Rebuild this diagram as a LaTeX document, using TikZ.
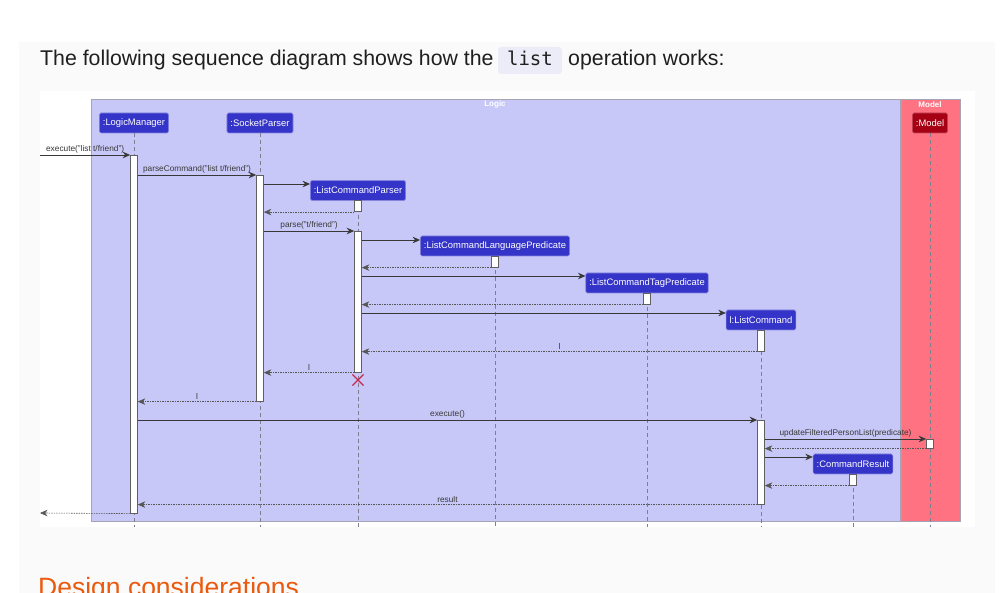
\documentclass[tikz,border=0pt]{standalone}
\usepackage{fontspec}
\setmainfont{Liberation Sans}
\setmonofont{DejaVu Sans Mono}
\usetikzlibrary{arrows.meta, backgrounds, calc, positioning, shapes.misc}
\definecolor{seqpanel}{HTML}{FAFAFA}
\definecolor{seqcodebg}{HTML}{ECECF8}
\definecolor{seqtext}{HTML}{1F1F1F}
\definecolor{seqlogic}{HTML}{C8C8F8}
\definecolor{seqframe}{HTML}{A4A4B4}
\definecolor{seqmodel}{HTML}{FF7282}
\definecolor{seqpart}{HTML}{3434C8}
\definecolor{seqmodelpart}{HTML}{A50014}
\definecolor{seqarrow}{HTML}{383838}
\definecolor{seqlife}{HTML}{7E7E90}
\definecolor{seqdestroy}{HTML}{C8284E}
\definecolor{seqheading}{HTML}{EA5A0E}
\newcommand{\SeqPartFont}{\fontsize{9.4}{11}\selectfont}
\newcommand{\SeqMsgFont}{\fontsize{8.3}{10}\selectfont}
\tikzset{
  seq part/.style={
    rounded corners=1.5pt,
    fill=seqpart,
    draw=seqpart!60!white,
    line width=0.6pt,
    text=white,
    font=\SeqPartFont,
    inner xsep=3.5pt,
    minimum height=20pt
  },
  seq model part/.style={seq part, fill=seqmodelpart, draw=seqmodelpart!70!white},
  seq act/.style={
    rectangle,
    draw=seqarrow!80,
    fill=white,
    line width=0.6pt,
    minimum width=7pt,
    inner sep=0pt,
    anchor=north
  },
  seq life/.style={draw=seqlife, line width=0.6pt, dash pattern=on 4pt off 3pt},
  seq call/.style={
    -{Stealth[length=7.5pt,width=6.5pt,inset=2.4pt]},
    draw=seqarrow,
    line width=0.8pt
  },
  seq return/.style={
    -{Stealth[length=7.5pt,width=6.5pt,inset=2.4pt]},
    draw=seqarrow!85,
    line width=0.6pt,
    dash pattern=on 1.5pt off 1pt
  },
  seq label/.style={
    above,
    inner sep=1.5pt,
    font=\SeqMsgFont,
    text=seqarrow
  },
  seq box title/.style={
    font=\fontsize{8}{9}\selectfont\bfseries,
    text=white
  }
}

\begin{document}
\begin{tikzpicture}[x=1pt,y=-1pt]
\clip (0,0) rectangle (1005,593);
\fill[white] (0,0) rectangle (1005,593);
\fill[seqpanel] (19,42) rectangle (995,600);
\fill[white] (40,91) rectangle (975,527);

% intro line
\node[anchor=base west, inner sep=0pt, font=\fontsize{21.3}{24}\selectfont, text=seqtext]
  (intro) at (40,66) {The following sequence diagram shows how the};
\node[anchor=base west, fill=seqcodebg, rounded corners=3pt, inner xsep=9pt, inner ysep=4pt,
  text height=15pt, text depth=4pt, font=\ttfamily\fontsize{19}{22}\selectfont, text=seqtext]
  (code) at ([xshift=4pt]intro.base east) {list};
\node[anchor=base west, inner sep=0pt, font=\fontsize{21.3}{24}\selectfont, text=seqtext]
  (introEnd) at ([xshift=6pt]code.base east) {operation works:};

% boxes
\fill[seqlogic, draw=seqframe, line width=0.8pt] (91,99) rectangle (900,521);
\fill[seqmodel, draw=seqframe, line width=0.8pt] (901,99) rectangle (960,521);
\node[seq box title] (logicTitle) at (495,104.5) {Logic};
\node[seq box title] (modelTitle) at (930,104.5) {Model};

% participants
\node[seq part] (lm) at (134,123) {:LogicManager};
\node[seq part] (sp) at (260,123) {:SocketParser};
\node[seq part] (lcp) at (358,190.5) {:ListCommandParser};
\node[seq part] (lclp) at (495,246) {:ListCommandLanguagePredicate};
\node[seq part] (lctp) at (647,283) {:ListCommandTagPredicate};
\node[seq part] (lc) at (761,320) {l:ListCommand};
\node[seq part] (cr) at (853,464) {:CommandResult};
\node[seq model part] (mdl) at (930,123) {:Model};

% lifelines
\foreach \p in {lm,sp,lcp,lclp,lctp,lc,cr,mdl}
  \draw[seq life] (\p.south) -- (\p.south |- 0,527);

% activations
\node[seq act, minimum height=358pt] (lmA) at (134,155) {};
\node[seq act, minimum height=226pt] (spA) at (260,175) {};
\node[seq act, minimum height=11pt] (lcpA1) at (358,200.5) {};
\node[seq act, minimum height=141pt] (lcpA2) at (358,231) {};
\node[seq act, minimum height=11pt] (lclpA) at (495,256) {};
\node[seq act, minimum height=11pt] (lctpA) at (647,293) {};
\node[seq act, minimum height=21pt] (lcA1) at (761,330) {};
\node[seq act, minimum height=84pt] (lcA2) at (761,420) {};
\node[seq act, minimum height=9pt] (mdlA) at (930,439) {};
\node[seq act, minimum height=11pt] (crA) at (853,474) {};
\node[cross out, draw=seqdestroy, line width=1.1pt, minimum size=10pt, inner sep=0pt]
  (lcpEnd) at (358,380) {};

\coordinate (callerIn) at (40,155);
\coordinate (callerOut) at (40,513);

% messages
\draw[seq call] (callerIn) -- node[seq label] {execute("list t/friend")} (lmA.north west);
\draw[seq call] (lmA.east |- spA.north) -- node[seq label] {parseCommand("list t/friend")} (spA.north west);
\draw[seq call] (spA.east |- 0,184) -- (lcp.west |- 0,184);
\draw[seq return] (lcpA1.south west) -- (spA.east |- lcpA1.south);
\draw[seq call] (spA.east |- lcpA2.north) -- node[seq label] {parse("t/friend")} (lcpA2.north west);
\draw[seq call] (lcpA2.east |- 0,240) -- (lclp.west |- 0,240);
\draw[seq return] (lclpA.south west) -- (lcpA2.east |- lclpA.south);
\draw[seq call] (lcpA2.east |- 0,276) -- (lctp.west |- 0,276);
\draw[seq return] (lctpA.south west) -- (lcpA2.east |- lctpA.south);
\draw[seq call] (lcpA2.east |- 0,313) -- (lc.west |- 0,313);
\draw[seq return] (lcA1.south west) -- node[seq label] {l} (lcpA2.east |- lcA1.south);
\draw[seq return] (lcpA2.south west) -- node[seq label] {l} (spA.east |- lcpA2.south);
\draw[seq return] (spA.south west) -- node[seq label] {l} (lmA.east |- spA.south);
\draw[seq call] (lmA.east |- lcA2.north) -- node[seq label] {execute()} (lcA2.north west);
\draw[seq call] (lcA2.east |- mdlA.north) -- node[seq label] {updateFilteredPersonList(predicate)} (mdlA.north west);
\draw[seq return] (mdlA.south west) -- (lcA2.east |- mdlA.south);
\draw[seq call] (lcA2.east |- 0,457) -- (cr.west |- 0,457);
\draw[seq return] (crA.south west) -- (lcA2.east |- crA.south);
\draw[seq return] (lcA2.south west) -- node[seq label] {result} (lmA.east |- lcA2.south);
\draw[seq return] (lmA.south west) -- (callerOut);

% next heading, cut by the page edge
\node[anchor=base west, inner sep=0pt, font=\fontsize{26.5}{30}\selectfont, text=seqheading]
  (nextHeading) at (38,597) {Design considerations};
\end{tikzpicture}
\end{document}
